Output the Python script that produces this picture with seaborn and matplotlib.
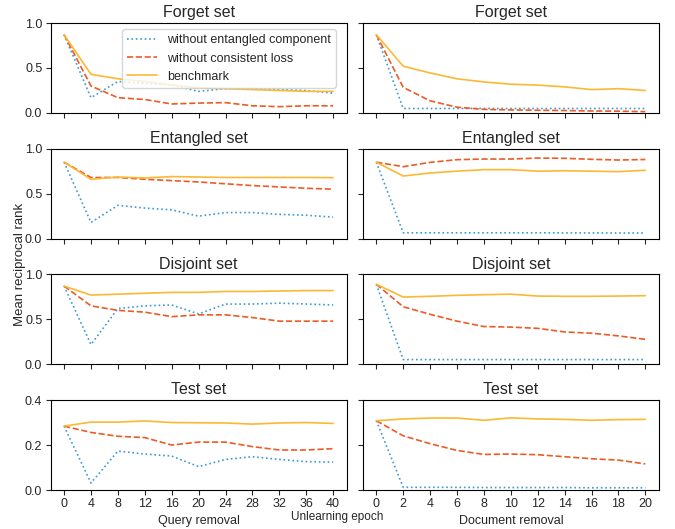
import matplotlib
matplotlib.use("Agg")
import matplotlib.pyplot as plt
import seaborn as sns
import pandas as pd

sns.set_style("ticks")
plt.rcParams["font.family"] = ["Liberation Sans", "DejaVu Sans"]

# Unlearning epochs for each removal setting
query_epochs = [0, 4, 8, 12, 16, 20, 24, 28, 32, 36, 40]
doc_epochs = [0, 2, 4, 6, 8, 10, 12, 14, 16, 18, 20]

set_names = ["Forget set", "Entangled set", "Disjoint set", "Test set"]
series_names = ["without entangled component", "without consistent loss", "benchmark"]

# Query removal: mean reciprocal rank per set
q_no_entangled = {
    "Forget set":    [0.87, 0.17, 0.35, 0.33, 0.31, 0.24, 0.27, 0.27, 0.26, 0.25, 0.22],
    "Entangled set": [0.85, 0.18, 0.37, 0.34, 0.32, 0.25, 0.29, 0.29, 0.27, 0.26, 0.24],
    "Disjoint set":  [0.87, 0.22, 0.62, 0.65, 0.66, 0.56, 0.67, 0.67, 0.68, 0.67, 0.66],
    "Test set":      [0.284, 0.031, 0.173, 0.160, 0.151, 0.104, 0.136, 0.148, 0.136, 0.126, 0.124],
}
q_no_consistent = {
    "Forget set":    [0.87, 0.30, 0.17, 0.15, 0.10, 0.11, 0.115, 0.08, 0.07, 0.08, 0.08],
    "Entangled set": [0.85, 0.68, 0.68, 0.66, 0.645, 0.63, 0.61, 0.59, 0.575, 0.56, 0.55],
    "Disjoint set":  [0.87, 0.65, 0.60, 0.58, 0.53, 0.55, 0.55, 0.52, 0.48, 0.48, 0.48],
    "Test set":      [0.284, 0.256, 0.239, 0.233, 0.200, 0.213, 0.213, 0.193, 0.178, 0.178, 0.184],
}
q_benchmark = {
    "Forget set":    [0.87, 0.43, 0.38, 0.35, 0.31, 0.28, 0.27, 0.26, 0.25, 0.24, 0.24],
    "Entangled set": [0.85, 0.66, 0.685, 0.675, 0.69, 0.685, 0.68, 0.68, 0.68, 0.68, 0.678],
    "Disjoint set":  [0.87, 0.77, 0.78, 0.79, 0.80, 0.80, 0.81, 0.81, 0.815, 0.82, 0.82],
    "Test set":      [0.284, 0.302, 0.302, 0.307, 0.300, 0.299, 0.298, 0.293, 0.298, 0.300, 0.296],
}

# Document removal: mean reciprocal rank per set
d_no_entangled = {
    "Forget set":    [0.87, 0.05, 0.05, 0.05, 0.05, 0.05, 0.05, 0.05, 0.05, 0.05, 0.05],
    "Entangled set": [0.85, 0.065, 0.065, 0.065, 0.065, 0.065, 0.065, 0.064, 0.064, 0.063, 0.063],
    "Disjoint set":  [0.89, 0.053, 0.053, 0.053, 0.053, 0.053, 0.053, 0.053, 0.053, 0.053, 0.053],
    "Test set":      [0.308, 0.012, 0.012, 0.012, 0.011, 0.011, 0.011, 0.011, 0.010, 0.010, 0.010],
}
d_no_consistent = {
    "Forget set":    [0.87, 0.285, 0.135, 0.064, 0.04, 0.034, 0.03, 0.027, 0.022, 0.02, 0.015],
    "Entangled set": [0.85, 0.80, 0.848, 0.878, 0.885, 0.885, 0.896, 0.893, 0.882, 0.874, 0.88],
    "Disjoint set":  [0.89, 0.64, 0.556, 0.48, 0.42, 0.414, 0.40, 0.36, 0.346, 0.316, 0.278],
    "Test set":      [0.308, 0.241, 0.206, 0.176, 0.158, 0.160, 0.157, 0.148, 0.139, 0.133, 0.116],
}
d_benchmark = {
    "Forget set":    [0.87, 0.52, 0.445, 0.38, 0.345, 0.32, 0.31, 0.29, 0.26, 0.27, 0.25],
    "Entangled set": [0.85, 0.696, 0.73, 0.75, 0.767, 0.767, 0.75, 0.755, 0.75, 0.745, 0.76],
    "Disjoint set":  [0.89, 0.748, 0.756, 0.767, 0.774, 0.78, 0.759, 0.756, 0.756, 0.759, 0.763],
    "Test set":      [0.308, 0.316, 0.320, 0.320, 0.310, 0.321, 0.316, 0.314, 0.310, 0.313, 0.314],
}

colors = ["#3C9AD6", "#EE5A24", "#FDB833"]
linestyles = [":", "--", "-"]

fig, axes = plt.subplots(4, 2, figsize=(6.75, 5.29), dpi=100, sharex="col", sharey="row")
fig.subplots_adjust(left=0.075, right=0.976, top=0.9565, bottom=0.0737, wspace=0.055, hspace=0.397)

columns = [
    (query_epochs, [q_no_entangled, q_no_consistent, q_benchmark], "Query removal"),
    (doc_epochs, [d_no_entangled, d_no_consistent, d_benchmark], "Document removal"),
]

for c, (epochs, groups, xlabel) in enumerate(columns):
    for r, set_name in enumerate(set_names):
        ax = axes[r, c]
        for name, group, color, ls in zip(series_names, groups, colors, linestyles):
            df = pd.DataFrame({"epoch": epochs, "mrr": group[set_name]})
            sns.lineplot(data=df, x="epoch", y="mrr", ax=ax, color=color,
                         linestyle=ls, linewidth=1.2, label=name, legend=False)
        ax.set_title(set_name, fontsize=11.5, pad=4)
        ax.set_xlabel("")
        ax.set_ylabel("")
        ax.set_xticks(epochs)
        ax.tick_params(labelsize=9, length=3.5, width=0.8, pad=2.5)
        for sp in ax.spines.values():
            sp.set_linewidth(0.8)
            sp.set_color("black")
    axes[3, c].set_xlabel(xlabel, fontsize=9, labelpad=3)

for r in range(3):
    axes[r, 0].set_ylim(0, 1.0)
    axes[r, 0].set_yticks([0.0, 0.5, 1.0])
axes[3, 0].set_ylim(0, 0.4)
axes[3, 0].set_yticks([0.0, 0.2, 0.4])

axes[0, 0].legend(loc="upper right", bbox_to_anchor=(0.985, 1.0), fontsize=9,
                  frameon=True, handlelength=2.4, borderpad=0.4, labelspacing=0.5)

fig.supylabel("Mean reciprocal rank", fontsize=9.5, x=0.02)
fig.supxlabel("Unlearning epoch", fontsize=8.5, y=0.012)

fig.savefig("out.png", dpi=100)
